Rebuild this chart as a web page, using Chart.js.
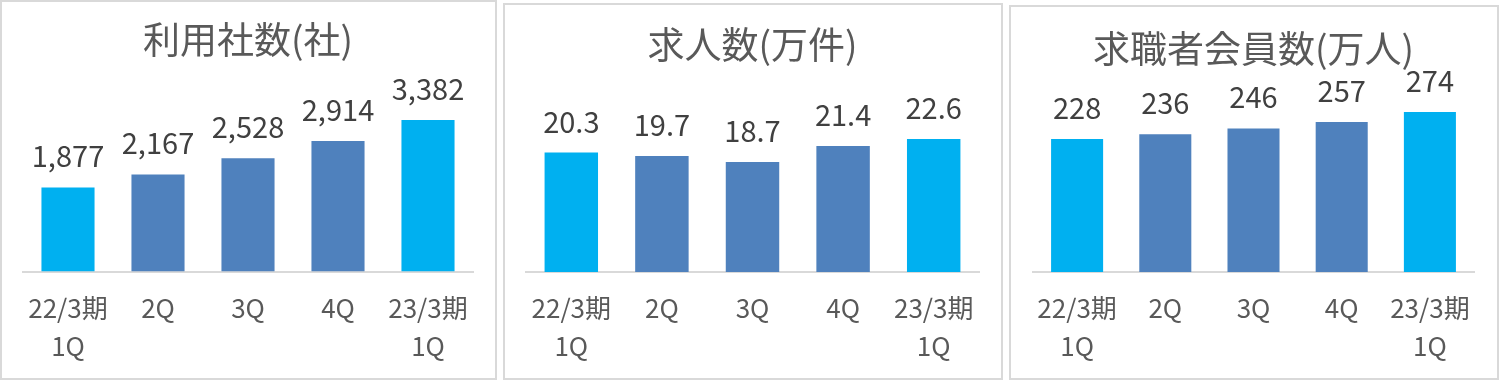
<!DOCTYPE html>
<html>
<head>
<meta charset="utf-8">
<script src="https://cdn.jsdelivr.net/npm/chart.js@4/dist/chart.umd.min.js"></script>
<style>
  html, body { margin: 0; padding: 0; background: #fff; overflow: hidden; }
  body { width: 1499px; height: 381px; position: relative; }
  .box { position: absolute; box-sizing: border-box; border: 2px solid #d9d9d9; }
  .wrap { position: absolute; top: 0; }
</style>
</head>
<body>
<div class="box" style="left:0;top:0;width:497px;height:380px"></div>
<div class="box" style="left:503px;top:3px;width:500px;height:377px"></div>
<div class="box" style="left:1009px;top:5px;width:490px;height:375px"></div>

<div class="wrap" style="left:0;width:497px;height:382px"><canvas id="usersChart"></canvas></div>
<div class="wrap" style="left:503px;width:500px;height:383px"><canvas id="jobsChart"></canvas></div>
<div class="wrap" style="left:1009px;width:490px;height:383px"><canvas id="membersChart"></canvas></div>

<script>
// 四半期ラベル
const quarters = [['22/3期', '1Q'], '2Q', '3Q', '4Q', ['23/3期', '1Q']];

// 各指標
const usersValues = [1877, 2167, 2528, 2914, 3382];   // 利用社数(社)
const jobsValues = [20.3, 19.7, 18.7, 21.4, 22.6];     // 求人数(万件)
const membersValues = [228, 236, 246, 257, 274];       // 求職者会員数(万人)

const CYAN = '#00B0F0';
const BLUE = '#4F81BD';
const barColors = [CYAN, BLUE, BLUE, BLUE, CYAN];
const FONT = '"Noto Sans CJK JP", "Noto Sans", sans-serif';

// バーの上に数値を表示
const valueLabels = {
    id: 'valueLabels',
    afterDatasetsDraw(chart, args, opts) {
        const ctx = chart.ctx;
        const meta = chart.getDatasetMeta(0);
        ctx.save();
        ctx.font = '29px ' + FONT;
        ctx.fillStyle = '#404040';
        ctx.textAlign = 'center';
        ctx.textBaseline = 'alphabetic';
        meta.data.forEach((bar, i) => {
            const v = chart.data.datasets[0].data[i];
            ctx.fillText(opts.format(v), bar.x, bar.y - 20);
        });
        ctx.restore();
    }
};

function makeChart(id, title, values, yMax, fmt, titlePad, pad, tickPad) {
    return new Chart(document.getElementById(id), {
        type: 'bar',
        data: {
            labels: quarters,
            datasets: [{
                data: values,
                backgroundColor: barColors,
                categoryPercentage: 1,
                barPercentage: 0.59
            }]
        },
        options: {
            responsive: true,
            maintainAspectRatio: false,
            animation: false,
            layout: { padding: { left: pad[0], right: pad[1], top: 0, bottom: 0 } },
            plugins: {
                legend: { display: false },
                tooltip: { enabled: false },
                title: {
                    display: true,
                    text: title,
                    color: '#595959',
                    font: { family: FONT, size: 37, weight: 'normal', lineHeight: 1.2 },
                    padding: { top: titlePad[0], bottom: titlePad[1] }
                },
                valueLabels: { format: fmt }
            },
            scales: {
                x: {
                    grid: { display: false, drawTicks: false },
                    border: { display: true, color: '#d9d9d9', width: 2 },
                    ticks: {
                        color: '#595959',
                        padding: tickPad,
                        maxRotation: 0,
                        autoSkip: false,
                        font: { family: FONT, size: 26, lineHeight: 1.46 }
                    }
                },
                y: { display: false, min: 0, max: yMax }
            }
        },
        plugins: [valueLabels]
    });
}

// タイトル高さ 37*1.2=44.4 → グラフ上端 90
makeChart('usersChart', '利用社数(社)', usersValues, 4051,
    v => v.toLocaleString('en-US'), [17.8, 27.8], [23, 24], 17.25);
makeChart('jobsChart', '求人数(万件)', jobsValues, 30.93,
    v => v.toFixed(1), [22.8, 22.8], [23, 24], 17.5);
makeChart('membersChart', '求職者会員数(万人)', membersValues, 311.7,
    v => String(v), [26.8, 18.8], [24, 25], 17.5);
</script>
</body>
</html>
